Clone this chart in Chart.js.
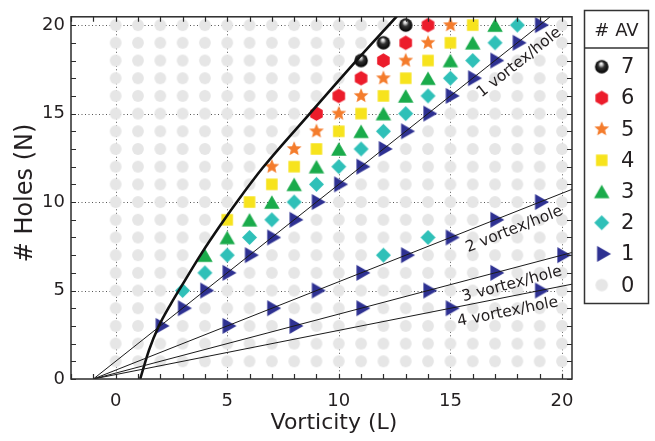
<!DOCTYPE html>
<html>
<head>
<meta charset="utf-8">
<script src="https://cdn.jsdelivr.net/npm/chart.js@4.4.1/dist/chart.umd.min.js"></script>
<style>
  html, body { margin: 0; padding: 0; background: #fff; }
  #c { display: block; }
</style>
</head>
<body>
<canvas id="c" width="655" height="441"></canvas>
<script>
// grid of (L, N) states
const vorticity = [0, 1, 2, 3, 4, 5, 6, 7, 8, 9, 10, 11, 12, 13, 14, 15, 16, 17, 18, 19, 20];
const holes = [1, 2, 3, 4, 5, 6, 7, 8, 9, 10, 11, 12, 13, 14, 15, 16, 17, 18, 19, 20];
const xTickLabels = [0, 5, 10, 15, 20];
const yTickLabels = [0, 5, 10, 15, 20];
const avLabels = ['7', '6', '5', '4', '3', '2', '1', '0'];

// states by number of antivortices, [L, N]
const av7 = [[11, 18], [12, 19], [13, 20]];
const av6 = [[9, 15], [10, 16], [11, 17], [12, 18], [13, 19], [14, 20]];
const av5 = [[7, 12], [8, 13], [9, 14], [10, 15], [11, 16], [12, 17], [13, 18], [14, 19], [15, 20]];
const av4 = [[5, 9], [6, 10], [7, 11], [8, 12], [9, 13], [10, 14], [11, 15], [12, 16], [13, 17], [14, 18], [15, 19], [16, 20]];
const av3 = [[4, 7], [5, 8], [6, 9], [7, 10], [8, 11], [9, 12], [10, 13], [11, 14], [12, 15], [13, 16], [14, 17], [15, 18], [16, 19], [17, 20]];
const av2 = [[3, 5], [4, 6], [5, 7], [6, 8], [7, 9], [8, 10], [9, 11], [10, 12], [11, 13], [12, 14], [13, 15], [14, 16], [15, 17], [16, 18], [17, 19], [18, 20],
             [12, 7], [14, 8]];
const av1 = [[2, 3], [3, 4], [4, 5], [5, 6], [6, 7], [7, 8], [8, 9], [9, 10], [10, 11], [11, 12], [12, 13], [13, 14], [14, 15], [15, 16], [16, 17], [17, 18], [18, 19], [19, 20],
             [5, 3], [7, 4], [9, 5], [11, 6], [13, 7], [15, 8], [17, 9], [19, 10],
             [8, 3], [11, 4], [14, 5], [17, 6], [20, 7],
             [15, 4], [19, 5]];

// n vortex/hole lines (end points)
const line1 = [[-1, 0], [19.5, 20.5]];
const line2 = [[-1, 0], [20.45, 10.72]];
const line3 = [[-1, 0], [20.45, 7.15]];
const line4 = [[-1, 0], [20.45, 5.36]];

// thick boundary curve
const boundL = [1.1, 1.5, 1.9, 2.5, 3.0, 3.85, 4.7, 5.4, 6.6, 8.7, 10.65, 12.6];
const boundN = [0, 1.65, 2.9, 4.3, 5.35, 7.1, 8.7, 9.95, 11.95, 15.0, 17.8, 20.5];

const TXT = '#231f20';
const FONT = 'DejaVu Sans';

// little canvases used as point styles
function icon(kind, color, d) {
  const size = Math.ceil(d) + 4;
  const c = document.createElement('canvas');
  c.width = c.height = size;
  const g = c.getContext('2d');
  const m = size / 2, r = d / 2;
  g.fillStyle = color;
  g.beginPath();
  if (kind === 'circle') {
    g.arc(m, m, r, 0, Math.PI * 2);
  } else if (kind === 'square') {
    g.rect(m - r, m - r, d, d);
  } else if (kind === 'diamond') {
    g.moveTo(m, m - r); g.lineTo(m + r, m); g.lineTo(m, m + r); g.lineTo(m - r, m);
  } else if (kind === 'triUp') {
    const h = d * 0.87;
    g.moveTo(m, m - h / 2); g.lineTo(m + r, m + h / 2); g.lineTo(m - r, m + h / 2);
  } else if (kind === 'triRight') {
    const w = d * 0.87;
    g.moveTo(m - w / 3, m - r); g.lineTo(m + 2 * w / 3, m); g.lineTo(m - w / 3, m + r);
  } else if (kind === 'hex') {
    for (let k = 0; k < 6; k++) {
      const a = -Math.PI / 2 + k * Math.PI / 3;
      g.lineTo(m + r * Math.cos(a), m + r * Math.sin(a));
    }
  } else if (kind === 'star') {
    for (let k = 0; k < 10; k++) {
      const rr = k % 2 ? r * 0.45 : r;
      const a = -Math.PI / 2 + k * Math.PI / 5;
      g.lineTo(m + rr * Math.cos(a), m + rr * Math.sin(a));
    }
  } else if (kind === 'sphere') {
    const grd = g.createRadialGradient(m - r * 0.1, m - r * 0.5, r * 0.05, m, m, r);
    grd.addColorStop(0, '#ffffff');
    grd.addColorStop(0.18, '#c8c8c8');
    grd.addColorStop(0.45, '#333');
    grd.addColorStop(1, '#000');
    g.fillStyle = grd;
    g.arc(m, m, r, 0, Math.PI * 2);
  }
  g.closePath();
  g.fill();
  return c;
}

const greyDot = icon('circle', '#e6e6e6', 11.8);
const styles = [
  icon('sphere', '#000', 13.5),
  icon('hex', '#ec1c2b', 14.5),
  icon('star', '#f47c2c', 15.5),
  icon('square', '#f7e31d', 11.5),
  icon('triUp', '#1aab4b', 15.5),
  icon('diamond', '#2fc0b8', 15),
  icon('triRight', '#2e3192', 16),
  greyDot
];
const legendGrey = icon('circle', '#e6e6e6', 12.5);

const groups = [av7, av6, av5, av4, av3, av2, av1];
const taken = new Set(groups.flat().map(p => p[0] + ',' + p[1]));
const greyPts = [];
vorticity.forEach(L => holes.forEach(N => {
  if (!taken.has(L + ',' + N)) greyPts.push({ x: L, y: N });
}));

const toXY = arr => arr.map(p => ({ x: p[0], y: p[1] }));

const datasets = [];
[line1, line2, line3, line4].forEach(l => datasets.push({
  data: toXY(l), showLine: true, borderColor: '#1a1a1a', borderWidth: 1,
  pointRadius: 0, order: 0
}));
datasets.push({
  data: boundL.map((L, i) => ({ x: L, y: boundN[i] })), showLine: true,
  borderColor: '#111', borderWidth: 2.6, pointRadius: 0,
  cubicInterpolationMode: 'monotone', order: 0
});
groups.forEach((g, i) => datasets.push({
  label: avLabels[i], data: toXY(g), pointStyle: styles[i], pointRadius: 7,
  borderWidth: 0, clip: false, order: 5
}));
datasets.push({
  label: '0', data: greyPts, pointStyle: greyDot, pointRadius: 5, borderWidth: 0, clip: false, order: 10
});

const lineNotes = [
  { text: '1 vortex/hole', line: line1, at: [18.09, 17.88] },
  { text: '2 vortex/hole', line: line2, at: [17.86, 8.45] },
  { text: '3 vortex/hole', line: line3, at: [17.76, 5.35] },
  { text: '4 vortex/hole', line: line4, at: [17.57, 3.78] }
];

const decor = {
  id: 'decor',
  beforeDatasetsDraw(chart) {
    const { ctx, chartArea: a, scales: { x, y } } = chart;
    ctx.save();
    ctx.strokeStyle = '#555';
    ctx.lineWidth = 1;
    ctx.setLineDash([1, 2.5]);
    ctx.beginPath();
    xTickLabels.forEach(v => {
      const p = Math.round(x.getPixelForValue(v)) + 0.5;
      ctx.moveTo(p, a.top); ctx.lineTo(p, a.bottom);
    });
    yTickLabels.forEach(v => {
      if (v <= y.min) return;
      const p = Math.round(y.getPixelForValue(v)) + 0.5;
      ctx.moveTo(a.left, p); ctx.lineTo(a.right, p);
    });
    ctx.stroke();
    ctx.restore();
  },
  afterDraw(chart) {
    const { ctx, chartArea: a, scales: { x, y } } = chart;
    ctx.save();
    // frame + inward ticks
    ctx.strokeStyle = '#2b2b2b';
    ctx.lineWidth = 1.5;
    ctx.strokeRect(a.left, a.top, a.right - a.left, a.bottom - a.top);
    ctx.lineWidth = 1.2;
    ctx.beginPath();
    for (let v = Math.ceil(x.min); v <= x.max; v++) {
      const p = Math.round(x.getPixelForValue(v)) + 0.5;
      ctx.moveTo(p, a.bottom); ctx.lineTo(p, a.bottom - 5);
      ctx.moveTo(p, a.top); ctx.lineTo(p, a.top + 5);
    }
    for (let v = Math.ceil(y.min); v <= y.max; v++) {
      const p = Math.round(y.getPixelForValue(v)) + 0.5;
      ctx.moveTo(a.left, p); ctx.lineTo(a.left + 5, p);
      ctx.moveTo(a.right, p); ctx.lineTo(a.right - 5, p);
    }
    ctx.stroke();

    // line labels
    ctx.fillStyle = TXT;
    ctx.font = '15.5px "' + FONT + '"';
    ctx.textAlign = 'center';
    ctx.textBaseline = 'middle';
    lineNotes.forEach(n => {
      const x1 = x.getPixelForValue(n.line[0][0]), y1 = y.getPixelForValue(n.line[0][1]);
      const x2 = x.getPixelForValue(n.line[1][0]), y2 = y.getPixelForValue(n.line[1][1]);
      const ang = Math.atan2(y2 - y1, x2 - x1);
      ctx.save();
      ctx.translate(x.getPixelForValue(n.at[0]), y.getPixelForValue(n.at[1]));
      ctx.rotate(ang);
      ctx.fillText(n.text, 0, 0);
      ctx.restore();
    });

    // axis titles
    ctx.font = '22px "' + FONT + '"';
    ctx.fillText('Vorticity (L)', 334, 423);
    ctx.save();
    ctx.translate(26, 193);
    ctx.rotate(-Math.PI / 2);
    ctx.font = '24px "' + FONT + '"';
    ctx.fillText('# Holes (N)', 0, 0);
    ctx.restore();

    // legend box
    ctx.strokeStyle = '#333';
    ctx.lineWidth = 1.5;
    ctx.strokeRect(584.5, 10.5, 64, 293);
    ctx.beginPath();
    ctx.moveTo(584.5, 48); ctx.lineTo(648.5, 48);
    ctx.stroke();
    ctx.font = '18px "' + FONT + '"';
    ctx.fillText('# AV', 616.5, 31);
    ctx.font = '21px "' + FONT + '"';
    ctx.textAlign = 'left';
    avLabels.forEach((lab, i) => {
      const cy = 66.7 + i * 31.2;
      const im = i === avLabels.length - 1 ? legendGrey : styles[i];
      ctx.drawImage(im, 601.7 - im.width / 2, cy - im.height / 2);
      ctx.fillText(lab, 621, cy + 1);
    });
    ctx.restore();
  }
};

new Chart(document.getElementById('c'), {
  type: 'scatter',
  data: { datasets },
  options: {
    responsive: false,
    animation: false,
    devicePixelRatio: 1,
    layout: { padding: { top: 10, right: 83, left: 0, bottom: 0 } },
    plugins: { legend: { display: false }, tooltip: { enabled: false } },
    scales: {
      x: {
        type: 'linear', min: -2, max: 20.45,
        grid: { display: false, drawTicks: false },
        border: { display: false },
        afterBuildTicks: s => { s.ticks = xTickLabels.map(v => ({ value: v })); },
        afterFit: s => { s.height = 62; },
        ticks: { font: { family: FONT, size: 18 }, color: TXT, padding: 12, maxRotation: 0 }
      },
      y: {
        type: 'linear', min: 0, max: 20.47,
        grid: { display: false, drawTicks: false },
        border: { display: false },
        afterBuildTicks: s => { s.ticks = yTickLabels.map(v => ({ value: v })); },
        afterFit: s => { s.width = 71; },
        ticks: { font: { family: FONT, size: 18 }, color: TXT, padding: 6 }
      }
    }
  },
  plugins: [decor]
});
</script>
</body>
</html>
